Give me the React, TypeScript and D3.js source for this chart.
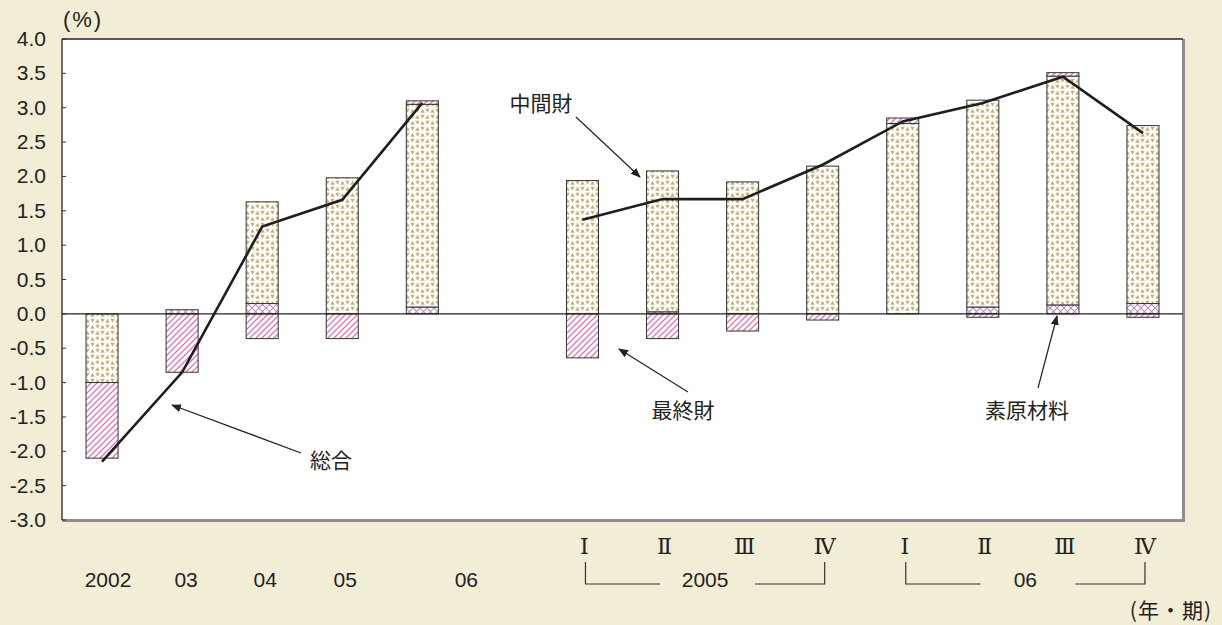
import React from "react";
import * as d3 from "d3";

// Contributions to the year-on-year change of the domestic corporate goods price index (%)
const categories = [
  "2002", "2003", "2004", "2005", "2006", "gap",
  "2005-I", "2005-II", "2005-III", "2005-IV",
  "2006-I", "2006-II", "2006-III", "2006-IV",
];
// 素原材料 (raw materials)
const rawMaterials = [0, 0.06, 0.15, 0, 0.1, null, 0, 0.03, 0, 0, 0, 0.1, 0.13, 0.15];
// 中間財 (intermediate goods)
const intermediate = [-1.0, 0, 1.48, 1.98, 2.95, null, 1.94, 2.05, 1.92, 2.15, 2.77, 3.01, 3.33, 2.59];
// 最終財 (final goods)
const finalGoods = [-1.1, -0.85, -0.36, -0.36, 0.05, null, -0.64, -0.36, -0.25, -0.09, 0.08, -0.05, 0.05, -0.05];
// 総合 (overall)
const overall = [-2.15, -0.85, 1.27, 1.66, 3.07, null, 1.37, 1.67, 1.67, 2.17, 2.8, 3.07, 3.45, 2.63];

const yTicks = [-3, -2.5, -2, -1.5, -1, -0.5, 0, 0.5, 1, 1.5, 2, 2.5, 3, 3.5, 4];

const yearLabels = [
  { key: "2002", text: "2002", shift: 6 },
  { key: "2003", text: "03", shift: 4 },
  { key: "2004", text: "04", shift: 3 },
  { key: "2005", text: "05", shift: 3 },
  { key: "2006", text: "06", shift: 44 },
];
const quarterKeys = ["2005-I", "2005-II", "2005-III", "2005-IV", "2006-I", "2006-II", "2006-III", "2006-IV"];
const quarterLabels = ["Ⅰ", "Ⅱ", "Ⅲ", "Ⅳ", "Ⅰ", "Ⅱ", "Ⅲ", "Ⅳ"];
const yearBrackets = [
  { from: "2005-I", to: "2005-IV", text: "2005" },
  { from: "2006-I", to: "2006-IV", text: "06" },
];

const W = 1222;
const H = 625;
const plot = { left: 62, right: 1183, top: 39, bottom: 520 };

const sans = "'Liberation Sans', Arial, Helvetica, sans-serif";
const cjk = "'Noto Sans CJK JP', 'Noto Sans', sans-serif";

const series = [
  { key: "raw", values: rawMaterials, fill: "url(#crossHatch)" },
  { key: "mid", values: intermediate, fill: "url(#triDots)" },
  { key: "fin", values: finalGoods, fill: "url(#diagHatch)" },
];

export default function App() {
  const x = d3
    .scaleBand<string>()
    .domain(categories)
    .range([plot.left, plot.right])
    .paddingInner(0.6)
    .paddingOuter(0.3);
  const y = d3.scaleLinear().domain([-3, 4]).range([plot.bottom, plot.top]);
  const bw = x.bandwidth();
  const cx = (k: string) => (x(k) as number) + bw / 2;

  const rows = categories.map((c, i) => ({
    cat: c,
    raw: rawMaterials[i] ?? 0,
    mid: intermediate[i] ?? 0,
    fin: finalGoods[i] ?? 0,
  }));
  const stacked = d3
    .stack<any>()
    .keys(series.map((s) => s.key))
    .offset(d3.stackOffsetDiverging)(rows);

  const linePts = categories.map((c, i) => ({ c, v: overall[i] }));
  const line = d3
    .line<{ c: string; v: number | null }>()
    .defined((d) => d.v != null)
    .x((d) => cx(d.c))
    .y((d) => y(d.v as number));

  const annotations = [
    { text: "中間財", tx: 541, ty: 111, x1: 576, y1: 117, x2: 640, y2: 177 },
    { text: "最終財", tx: 683, ty: 418, x1: 688, y1: 392, x2: 619, y2: 349 },
    { text: "総合", tx: 331, ty: 468, x1: 301, y1: 453, x2: 172, y2: 405 },
    { text: "素原材料", tx: 1027, ty: 418, x1: 1038, y1: 388, x2: 1057, y2: 316 },
  ];

  return (
    <svg
      width={W}
      height={H}
      style={{ position: "absolute", left: 0, top: 0, display: "block" }}
      xmlns="http://www.w3.org/2000/svg"
    >
      <defs>
        <pattern id="triDots" patternUnits="userSpaceOnUse" width={10} height={12}>
          <rect width={10} height={12} fill="#ffffff" />
          <g fill="#c6b27c">
            <polygon points="0.2,4.8 4.8,4.8 2.5,0.8" />
            <polygon points="5.2,0.8 9.8,0.8 7.5,4.8" />
            <polygon points="0.2,6.8 4.8,6.8 2.5,10.8" />
            <polygon points="5.2,10.8 9.8,10.8 7.5,6.8" />
          </g>
        </pattern>
        <pattern id="diagHatch" patternUnits="userSpaceOnUse" width={6} height={6}>
          <rect width={6} height={6} fill="#ffffff" />
          <path
            d="M0,6 L6,0 M-1.5,1.5 L1.5,-1.5 M4.5,7.5 L7.5,4.5"
            stroke="#e074b4"
            strokeWidth={1.3}
          />
        </pattern>
        <pattern id="crossHatch" patternUnits="userSpaceOnUse" width={7} height={7}>
          <rect width={7} height={7} fill="#ffffff" />
          <path
            d="M0,0 L7,7 M0,7 L7,0"
            stroke="#be8cc4"
            strokeWidth={1.1}
          />
        </pattern>
        <marker
          id="arrowHead"
          viewBox="0 0 10 10"
          refX={9}
          refY={5}
          markerWidth={10}
          markerHeight={10}
          markerUnits="userSpaceOnUse"
          orient="auto"
        >
          <path d="M0,1 L10,5 L0,9 Z" fill="#222" />
        </marker>
      </defs>

      <rect x={0} y={0} width={W} height={H} fill="#f2edd5" />

      {/* plot area */}
      <rect
        x={plot.left}
        y={plot.top}
        width={plot.right - plot.left}
        height={plot.bottom - plot.top}
        fill="#ffffff"
      />
      <line x1={plot.right + 0.5} x2={plot.right + 0.5} y1={plot.top} y2={plot.bottom + 2} stroke="#8f8f8f" strokeWidth={3} />
      <line x1={plot.left} x2={plot.right + 2} y1={plot.bottom + 0.5} y2={plot.bottom + 0.5} stroke="#8f8f8f" strokeWidth={3} />
      <line x1={plot.left} x2={plot.right} y1={plot.top} y2={plot.top} stroke="#222" strokeWidth={1.3} />
      <line x1={plot.left} x2={plot.left} y1={plot.top} y2={plot.bottom} stroke="#222" strokeWidth={1.3} />

      {/* y axis ticks and labels */}
      {yTicks.map((t) => (
        <g key={t}>
          <line x1={plot.left} x2={plot.left + 4} y1={y(t)} y2={y(t)} stroke="#333" strokeWidth={1} />
          <text
            x={46}
            y={y(t) + 7}
            textAnchor="end"
            fontFamily={sans}
            fontSize={21}
            fill="#222"
          >
            {t.toFixed(1)}
          </text>
        </g>
      ))}
      <text x={83} y={27} textAnchor="middle" fontFamily={sans} fontSize={22} fill="#222" letterSpacing={2}>
        (%)
      </text>

      {/* stacked bars */}
      {stacked.map((layer, li) => (
        <g key={layer.key}>
          {layer.map((seg, i) => {
            const cat = categories[i];
            if (series[li].values[i] == null) return null;
            const v0 = seg[0];
            const v1 = seg[1];
            if (Math.abs(v1 - v0) < 1e-9) return null;
            const top = y(Math.max(v0, v1));
            const bot = y(Math.min(v0, v1));
            return (
              <rect
                key={cat}
                x={x(cat)}
                y={top}
                width={bw}
                height={bot - top}
                fill={series[li].fill}
                stroke="#333"
                strokeWidth={1}
              />
            );
          })}
        </g>
      ))}

      {/* zero line */}
      <line x1={plot.left} x2={plot.right} y1={y(0)} y2={y(0)} stroke="#222" strokeWidth={1.2} />

      {/* overall line */}
      <path d={line(linePts as any) || ""} fill="none" stroke="#1e1e1e" strokeWidth={2.6} strokeLinejoin="miter" />

      {/* annotations */}
      {annotations.map((a) => (
        <g key={a.text}>
          <line x1={a.x1} y1={a.y1} x2={a.x2} y2={a.y2} stroke="#222" strokeWidth={1.2} markerEnd="url(#arrowHead)" />
          <text x={a.tx} y={a.ty} textAnchor="middle" fontFamily={cjk} fontSize={21} fill="#222">
            {a.text}
          </text>
        </g>
      ))}

      {/* annual labels */}
      {yearLabels.map((l) => (
        <text
          key={l.key}
          x={cx(l.key) + l.shift}
          y={587}
          textAnchor="middle"
          fontFamily={sans}
          fontSize={21}
          fill="#222"
        >
          {l.text}
        </text>
      ))}

      {/* quarter labels */}
      {quarterKeys.map((k, i) => (
        <text
          key={k}
          x={cx(k) + 2}
          y={554}
          textAnchor="middle"
          fontFamily="'DejaVu Serif', 'Liberation Serif', serif"
          fontSize={22}
          fill="#222"
        >
          {quarterLabels[i]}
        </text>
      ))}

      {/* year brackets under quarters */}
      {yearBrackets.map((b) => {
        const xa = cx(b.from) + 3;
        const xb = cx(b.to) + 2;
        const mid = (xa + xb) / 2;
        return (
          <g key={b.text} stroke="#333" strokeWidth={1.2} fill="none">
            <polyline points={`${xa},562 ${xa},584 ${mid - 45},584`} />
            <polyline points={`${mid + 50},584 ${xb},584 ${xb},562`} />
            <text
              x={mid}
              y={587}
              textAnchor="middle"
              fontFamily={sans}
              fontSize={21}
              fill="#222"
              stroke="none"
            >
              {b.text}
            </text>
          </g>
        );
      })}

      <text x={1212} y={618} textAnchor="end" fontFamily={cjk} fontSize={21} fill="#222" letterSpacing={1}>
        (年・期)
      </text>
    </svg>
  );
}
